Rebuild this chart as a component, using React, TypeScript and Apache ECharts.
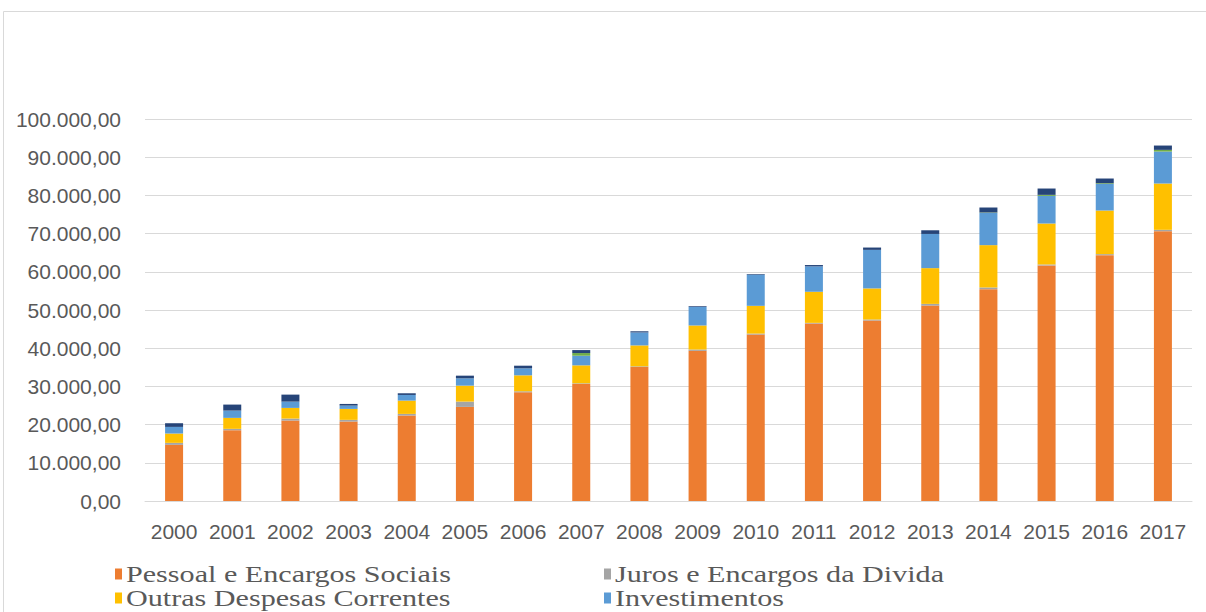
import React, { useEffect, useRef } from "react";
import * as echarts from "echarts";

const years = ["2000","2001","2002","2003","2004","2005","2006","2007","2008","2009","2010","2011","2012","2013","2014","2015","2016","2017"];
const pessoal = [14700,18540,21060,20800,22370,24630,28460,30640,35070,39300,43570,46460,47240,51150,55460,61660,64360,70640];
const juros = [520,350,520,440,430,1390,260,170,180,350,260,170,270,450,440,260,260,350];
const outras = [2440,2870,2790,2870,3480,4180,4180,4700,5480,6300,7260,8140,8140,9360,11080,10720,11420,12120];
const investimentos = [1740,1910,1650,870,1480,1910,1830,2520,3400,4830,8140,6650,10090,8950,8450,7240,6980,8370];
const inversoes = [0,0,0,0,0,0,0,700,0,0,0,0,0,0,100,260,180,440];
const amortizacao = [960,1570,1830,430,440,700,690,780,300,200,170,350,610,960,1300,1660,1220,1130];

const seriesNames = [
  "Pessoal e Encargos Sociais",
  "Juros e Encargos da Divida",
  "Outras Despesas Correntes",
  "Investimentos",
  "Inversões Financeiras",
  "Amortização da Divida",
];
const colors = ["#ED7D31", "#A5A5A5", "#FFC000", "#5B9BD5", "#70AD47", "#264478"];
const seriesData = [pessoal, juros, outras, investimentos, inversoes, amortizacao];

function fmt(v: number): string {
  const s = Math.round(v).toString();
  const withDots = s.replace(/\B(?=(\d{3})+(?!\d))/g, ".");
  return withDots + ",00";
}

export default function App() {
  const ref = useRef<HTMLDivElement>(null);
  useEffect(() => {
    if (!ref.current) return;
    const chart = echarts.init(ref.current, null, { renderer: "svg" });
    const legendItems = [
      { i: 0, x: 115, y: 574 },
      { i: 1, x: 604, y: 574 },
      { i: 2, x: 115, y: 598 },
      { i: 3, x: 604, y: 598 },
    ];
    const graphic: any[] = [
      {
        type: "rect",
        z: -10,
        shape: { x: 3.5, y: 11.5, width: 1400, height: 800 },
        style: { fill: "none", stroke: "#D9D9D9", lineWidth: 1 },
      },
    ];
    legendItems.forEach((it) => {
      graphic.push({
        type: "rect",
        shape: { x: it.x, y: it.y - 5.5, width: 7, height: 11 },
        style: { fill: colors[it.i] },
      });
      graphic.push({
        type: "text",
        x: it.x + 11,
        y: it.y,
        scaleX: 1.31,
        style: {
          text: seriesNames[it.i],
          fill: "#595959",
          font: '23px "Liberation Serif"',
          textAlign: "left",
          textVerticalAlign: "middle",
        },
      });
    });
    chart.setOption({
      animation: false,
      grid: { left: 145, right: 14, top: 119, bottom: 111, containLabel: false },
      xAxis: {
        type: "category",
        data: years,
        axisLine: { lineStyle: { color: "#D9D9D9", width: 1 } },
        axisTick: { show: false },
        axisLabel: {
          interval: 0,
          color: "#595959",
          fontSize: 21,
          fontFamily: '"Liberation Sans"',
          margin: 20,
        },
      },
      yAxis: {
        type: "value",
        min: 0,
        max: 100000,
        interval: 10000,
        axisLine: { show: false },
        axisTick: { show: false },
        splitLine: { lineStyle: { color: "#D9D9D9", width: 1 } },
        axisLabel: {
          color: "#595959",
          fontSize: 21,
          fontFamily: '"Liberation Sans"',
          margin: 24,
          formatter: (v: number) => fmt(v),
        },
      },
      graphic,
      series: seriesData.map((d, i) => ({
        name: seriesNames[i],
        type: "bar",
        stack: "total",
        barWidth: 18,
        data: d,
        itemStyle: { color: colors[i] },
      })),
    });
    return () => chart.dispose();
  }, []);
  return (
    <div
      ref={ref}
      style={{ position: "fixed", left: 0, top: 0, width: 1206, height: 612, background: "#fff" }}
    />
  );
}
